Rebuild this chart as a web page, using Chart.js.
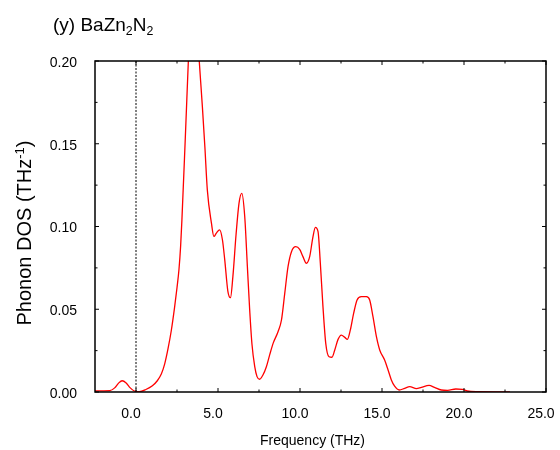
<!DOCTYPE html>
<html>
<head>
<meta charset="utf-8">
<script src="https://cdn.jsdelivr.net/npm/chart.js@4.4.0/dist/chart.umd.min.js"></script>
<style>
  html, body { margin: 0; padding: 0; background: #fff; }
</style>
</head>
<body>
<canvas id="dosChart" width="560" height="450"></canvas>
<script>
// values (THz, states/THz)
const freq = [
  -2.5, -2.0, -1.6, -1.3, -1.05, -0.85, -0.6, -0.35, -0.1, 0.2,
  0.6, 1.0, 1.3, 1.55, 1.75, 1.95, 2.15, 2.35, 2.5, 2.62,
  2.72, 2.8, 3.0, 3.2, 3.45, 3.65, 3.85, 4.05, 4.2, 4.35,
  4.6, 4.75, 4.9, 5.1, 5.27, 5.41, 5.6, 5.76, 5.91, 6.1,
  6.28, 6.45, 6.63, 6.79, 6.93, 7.07, 7.24, 7.38, 7.54, 7.74,
  7.95, 8.15, 8.36, 8.66, 8.87, 9.07, 9.27, 9.48, 9.74, 9.98,
  10.18, 10.39, 10.59, 10.79, 10.94, 11.1, 11.24, 11.4, 11.57, 11.77,
  11.95, 12.12, 12.32, 12.52, 12.73, 12.89, 13.07, 13.27, 13.48, 13.74,
  14.05, 14.25, 14.45, 14.66, 14.86, 15.16, 15.37, 15.57, 15.77, 16.05,
  16.38, 16.69, 17.1, 17.4, 17.87, 18.2, 18.62, 19.0, 19.5, 19.9,
  20.2, 20.8, 22.8
];
const dos = [
  0.0006, 0.0007, 0.0008, 0.0025, 0.0055, 0.0068, 0.0055, 0.0025, 0.0006, 0.0002,
  0.0015, 0.0038, 0.0068, 0.011, 0.017, 0.026, 0.037, 0.051, 0.063, 0.074,
  0.088, 0.104, 0.152, 0.202, 0.262, 0.232, 0.201, 0.172, 0.148, 0.122,
  0.102, 0.094, 0.096, 0.098, 0.092, 0.080, 0.061, 0.057, 0.070, 0.095,
  0.114, 0.120, 0.106, 0.076, 0.050, 0.029, 0.0153, 0.0093, 0.0077, 0.0103,
  0.0153, 0.0224, 0.0294, 0.0364, 0.0435, 0.0596, 0.0757, 0.0848, 0.0878, 0.0862,
  0.0818, 0.0778, 0.0818, 0.0938, 0.0995, 0.0969, 0.0778, 0.0516, 0.0294, 0.0213,
  0.021, 0.0254, 0.0318, 0.0344, 0.033, 0.0318, 0.0375, 0.0475, 0.0556, 0.0576,
  0.0576, 0.0556, 0.0455, 0.0334, 0.0254, 0.0193, 0.0133, 0.0073, 0.0035, 0.0012,
  0.0022, 0.0032, 0.002, 0.0028, 0.004, 0.0028, 0.0012, 0.001, 0.0018, 0.0016,
  0.0006, 0.0002, 0.0001
];
const xTicks = [0, 5, 10, 15, 20, 25];
const xMinor = [2.5, 7.5, 12.5, 17.5, 22.5];
const yTicks = [0, 0.05, 0.1, 0.15, 0.2];
const yMinor = [0.025, 0.075, 0.125, 0.175];
const fermiLine = [{ x: 0, y: 0 }, { x: 0, y: 0.2 }];

const FONT = '"Liberation Sans", Arial, sans-serif';

// text with sub/superscripts, parts = [[text, shift]]
function richWidth(ctx, parts, size) {
  let w = 0;
  parts.forEach(([t, shift]) => {
    ctx.font = (shift ? size * 0.65 : size) + 'px ' + FONT;
    w += ctx.measureText(t).width;
  });
  return w;
}
function drawRich(ctx, parts, x, y, size) {
  parts.forEach(([t, shift]) => {
    ctx.font = (shift ? size * 0.65 : size) + 'px ' + FONT;
    ctx.fillText(t, x, y + (shift || 0));
    x += ctx.measureText(t).width;
  });
}

const framePlugin = {
  id: 'frame',
  afterDatasetsDraw(chart) {
    const { ctx, chartArea: a, scales: { x, y } } = chart;
    ctx.save();
    ctx.strokeStyle = '#000';
    ctx.lineWidth = 1.5;
    ctx.strokeRect(a.left, a.top, a.right - a.left, a.bottom - a.top);

    ctx.lineWidth = 1;
    ctx.beginPath();
    const xt = (v, len) => {
      const px = x.getPixelForValue(v);
      ctx.moveTo(px, a.bottom); ctx.lineTo(px, a.bottom - len);
      ctx.moveTo(px, a.top); ctx.lineTo(px, a.top + len);
    };
    const yt = (v, len) => {
      const py = y.getPixelForValue(v);
      ctx.moveTo(a.left, py); ctx.lineTo(a.left + len, py);
      ctx.moveTo(a.right, py); ctx.lineTo(a.right - len, py);
    };
    xTicks.forEach(v => xt(v, 4));
    xMinor.forEach(v => xt(v, 2.5));
    yTicks.forEach(v => yt(v, 4));
    yMinor.forEach(v => yt(v, 2.5));
    ctx.stroke();

    // titles
    ctx.fillStyle = '#000';
    ctx.textBaseline = 'alphabetic';
    ctx.textAlign = 'left';
    drawRich(ctx, [['(y) BaZn'], ['2', 4.3], ['N'], ['2', 4.3]], 53, 31, 19);

    ctx.font = '14px ' + FONT;
    ctx.textAlign = 'center';
    ctx.fillText('Frequency (THz)', 312.5, 445);

    const yParts = [['Phonon DOS (THz'], ['-1', -7], [')']];
    ctx.textAlign = 'left';
    const w = richWidth(ctx, yParts, 20);
    ctx.translate(31, 233);
    ctx.rotate(-Math.PI / 2);
    drawRich(ctx, yParts, -w / 2, 0, 20);
    ctx.restore();
  }
};

new Chart(document.getElementById('dosChart'), {
  type: 'line',
  data: {
    datasets: [
      {
        data: freq.map((f, i) => ({ x: f, y: dos[i] })),
        borderColor: '#ff0000',
        borderWidth: 1.3,
        pointRadius: 0,
        cubicInterpolationMode: 'monotone',
        fill: false
      },
      {
        data: fermiLine,
        borderColor: '#000',
        borderWidth: 1,
        borderDash: [2, 1.5],
        pointRadius: 0,
        fill: false
      }
    ]
  },
  options: {
    responsive: false,
    animation: false,
    devicePixelRatio: 1,
    layout: { padding: { left: 0, right: 14, top: 61, bottom: 0 } },
    plugins: { legend: { display: false }, tooltip: { enabled: false } },
    scales: {
      x: {
        type: 'linear',
        min: -2.5,
        max: 25,
        afterBuildTicks: s => { s.ticks = xTicks.map(v => ({ value: v })); },
        afterFit: s => {
          s.height = 58;
          s.paddingLeft = 0;
          s.paddingRight = 0;
        },
        grid: { display: false, drawTicks: false },
        border: { display: false },
        ticks: {
          padding: 14,
          labelOffset: -5,
          autoSkip: false,
          maxRotation: 0,
          color: '#000',
          font: { family: FONT, size: 14 },
          callback: v => v.toFixed(1)
        }
      },
      y: {
        type: 'linear',
        min: 0,
        max: 0.2,
        afterBuildTicks: s => { s.ticks = yTicks.map(v => ({ value: v })); },
        afterFit: s => {
          s.width = 95;
          s.paddingTop = 0;
          s.paddingBottom = 0;
        },
        grid: { display: false, drawTicks: false },
        border: { display: false },
        ticks: {
          padding: 18,
          labelOffset: 2,
          color: '#000',
          font: { family: FONT, size: 14 },
          callback: v => v.toFixed(2)
        }
      }
    }
  },
  plugins: [framePlugin]
});
</script>
</body>
</html>
